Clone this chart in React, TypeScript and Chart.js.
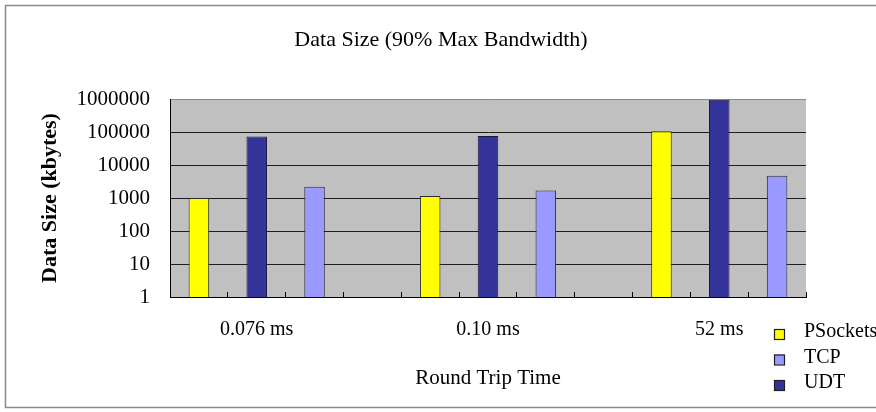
import { useEffect, useRef } from 'react';
import { Chart, registerables } from 'chart.js';

Chart.register(...registerables);

// Round trip times and the data size reached at 90% of max bandwidth (kbytes)
const roundTripTimes = ['0.076 ms', '0.10 ms', '52 ms'];
const psockets = [1000, 1150, 105000];
const tcp = [2200, 1700, 4700];
const udt = [73000, 76000, 950000];
const yTickValues = [1, 10, 100, 1000, 10000, 100000, 1000000];

// Each round-trip group uses four slots on the category axis:
// PSockets, UDT, TCP, then an empty gap before the next group.
const SLOTS_PER_GROUP = 4;
const slotCount = roundTripTimes.length * SLOTS_PER_GROUP - 1;

function spread(values: number[], slot: number): (number | null)[] {
  const out: (number | null)[] = new Array(slotCount).fill(null);
  values.forEach((v, i) => {
    out[i * SLOTS_PER_GROUP + slot] = v;
  });
  return out;
}

const axisLabels: string[] = new Array(slotCount).fill('');
roundTripTimes.forEach((t, i) => {
  axisLabels[i * SLOTS_PER_GROUP + 1] = t;
});

const SERIF = '"Liberation Serif", "Times New Roman", serif';

const plotBackground = {
  id: 'plotBackground',
  beforeDraw(chart: any) {
    const { ctx, chartArea } = chart;
    ctx.save();
    ctx.fillStyle = '#ffffff';
    ctx.fillRect(0, 0, chart.width, chart.height);
    ctx.fillStyle = '#c0c0c0';
    ctx.fillRect(chartArea.left, chartArea.top, chartArea.right - chartArea.left, chartArea.bottom - chartArea.top);
    ctx.restore();
  },
  afterDraw(chart: any) {
    const { ctx } = chart;
    ctx.save();
    ctx.strokeStyle = '#8a8a8a';
    ctx.lineWidth = 1.5;
    ctx.strokeRect(5.5, 5.5, chart.width + 20, 402);
    ctx.restore();
  },
};

// Vertical legend in the lower right corner, below the plot
const cornerLegend = {
  id: 'cornerLegend',
  afterDraw(chart: any) {
    const { ctx } = chart;
    const boxX = 774;
    const textX = 804;
    const firstRow = 334;
    const rowGap = 25.5;
    const box = 10;
    ctx.save();
    ctx.font = `20px ${SERIF}`;
    ctx.textBaseline = 'middle';
    ctx.textAlign = 'left';
    chart.data.datasets.forEach((ds: any, i: number) => {
      const cy = firstRow + i * rowGap;
      ctx.fillStyle = ds.backgroundColor;
      ctx.fillRect(boxX, cy - box / 2, box, box);
      ctx.strokeStyle = '#1e1e1e';
      ctx.lineWidth = 1.2;
      ctx.strokeRect(boxX + 0.5, cy - box / 2 + 0.5, box, box);
      ctx.fillStyle = '#000';
      ctx.fillText(ds.label, textX, cy - 2);
    });
    ctx.restore();
  },
};

export default function App() {
  const canvasRef = useRef<HTMLCanvasElement | null>(null);

  useEffect(() => {
    if (!canvasRef.current) return;
    const chart = new Chart(canvasRef.current, {
      type: 'bar',
      data: {
        labels: axisLabels,
        datasets: [
          {
            label: 'PSockets',
            data: spread(psockets, 0),
            backgroundColor: '#ffff00',
            borderColor: '#2a2a2a',
            borderWidth: 1,
          },
          {
            label: 'TCP',
            data: spread(tcp, 2),
            backgroundColor: '#9999ff',
            borderColor: '#2a2a2a',
            borderWidth: 1,
          },
          {
            label: 'UDT',
            data: spread(udt, 1),
            backgroundColor: '#333399',
            borderColor: '#1a1a40',
            borderWidth: 1,
          },
        ],
      },
      options: {
        responsive: false,
        animation: false,
        layout: { padding: { left: 76, right: 70, top: 8, bottom: 15 } },
        datasets: {
          bar: { grouped: false, barPercentage: 0.355, categoryPercentage: 1 },
        },
        plugins: {
          legend: { display: false },
          tooltip: { enabled: false },
          title: {
            display: true,
            text: 'Data Size (90% Max Bandwidth)',
            color: '#000',
            font: { family: SERIF, size: 22, weight: 'normal' },
            padding: { top: 18.8, bottom: 45.8 },
          },
        },
        scales: {
          x: {
            grid: {
              display: true,
              drawOnChartArea: false,
              drawTicks: true,
              tickLength: -5,
              offset: true,
              color: '#000',
            },
            border: { color: '#000', width: 1 },
            ticks: {
              autoSkip: false,
              maxRotation: 0,
              padding: 26,
              color: '#000',
              font: { family: SERIF, size: 20 },
            },
            title: {
              display: true,
              text: 'Round Trip Time',
              color: '#000',
              font: { family: SERIF, size: 21 },
              padding: { top: 0, bottom: 6.4 },
            },
            afterFit: (scale: any) => {
              scale.height = 100;
            },
          },
          y: {
            type: 'logarithmic',
            min: 1,
            max: 1000000,
            afterBuildTicks: (scale: any) => {
              scale.ticks = yTickValues.map((value) => ({ value }));
            },
            grid: {
              drawTicks: false,
              color: (ctx: any) => (ctx.tick && ctx.tick.value === 1000000 ? '#8a8a8a' : '#1e1e1e'),
              lineWidth: 1,
            },
            border: { color: '#000', width: 1 },
            ticks: {
              padding: 20,
              color: '#000',
              font: { family: SERIF, size: 21 },
              callback: (v: any) => String(Number(v)),
            },
            title: {
              display: true,
              text: 'Data Size (kbytes)',
              color: '#000',
              font: { family: SERIF, size: 22, weight: 'bold' },
              padding: { top: -39.2, bottom: 0 },
            },
            afterFit: (scale: any) => {
              scale.width = 94;
            },
          },
        },
      },
      plugins: [plotBackground, cornerLegend],
    } as any);
    return () => chart.destroy();
  }, []);

  return (
    <div style={{ position: 'absolute', left: 0, top: 0, width: 876, height: 412 }}>
      <canvas ref={canvasRef} width={876} height={412} style={{ display: 'block', width: 876, height: 412 }} />
    </div>
  );
}
